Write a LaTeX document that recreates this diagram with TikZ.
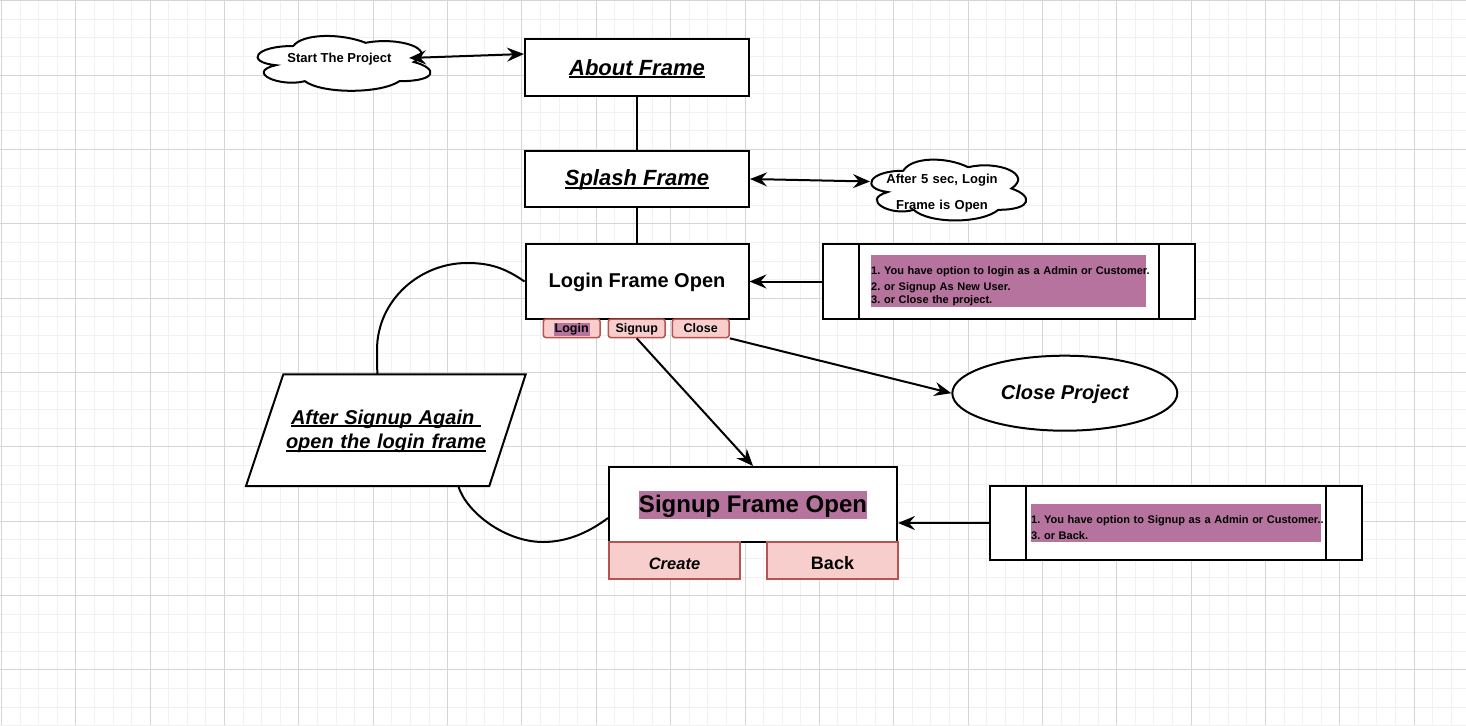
\documentclass[tikz,border=0pt]{standalone}
\usepackage{fontspec}
\setmainfont{Liberation Sans}
\usetikzlibrary{arrows.meta,shapes.geometric}
\definecolor{pp}{HTML}{B5739D}
\definecolor{btnfill}{HTML}{F8CECC}
\definecolor{btndraw}{HTML}{B85450}
\definecolor{gridminor}{HTML}{F1F1F1}
\definecolor{gridmajor}{HTML}{D5D5D5}
\frenchspacing
\newsavebox{\mulbox}
\newcommand{\mul}[1]{\leavevmode\hbox{\sbox{\mulbox}{#1}\rlap{\rule[-3.2pt]{\wd\mulbox}{1.8pt}}\usebox{\mulbox}}}
\newcommand{\dcloud}[4]{%
  \begin{scope}[shift={(#1,#2)}, x={(#3pt,0pt)}, y={(0pt,-#4pt)}]
    \draw[line width=2pt, fill=white] (0.25,0.25) .. controls (0.05,0.25) and (0,0.5) .. (0.16,0.55)
      .. controls (0,0.66) and (0.18,0.9) .. (0.31,0.8)
      .. controls (0.4,1) and (0.7,1) .. (0.8,0.8)
      .. controls (1,0.8) and (1,0.6) .. (0.875,0.5)
      .. controls (1,0.3) and (0.8,0.1) .. (0.625,0.2)
      .. controls (0.5,0.05) and (0.3,0.05) .. (0.25,0.25) -- cycle;
  \end{scope}}
\begin{document}
\begin{tikzpicture}[x=1pt,y=-1pt,
  framebox/.style={draw=black, line width=2pt, fill=white, inner sep=0pt},
  btn/.style={draw=btndraw, fill=btnfill, line width=1.5pt, rounded corners=2.5pt, inner sep=0pt},
  btnsq/.style={draw=btndraw, fill=btnfill, line width=1.5pt, inner sep=0pt},
  conn/.style={line width=2pt},
  tip/.tip={Stealth[length=17pt,width=14pt,inset=6pt]},
  arr/.style={conn, -tip},
  darr/.style={conn, tip-tip},
  ptext/.style={inner sep=0pt, text width=300pt, align=left, font={\fontsize{11}{13}\selectfont\bfseries}},
  hl/.style={fill=pp, inner sep=0pt}]
\fill[white] (0,0) rectangle (1466,725);
\useasboundingbox (0,0) rectangle (1466,725);
% grid
\foreach \i in {0,...,78} \draw[gridminor, line width=1pt] ({1.5+\i*18.5875},0) -- ({1.5+\i*18.5875},725);
\foreach \j in {0,...,39} \draw[gridminor, line width=1pt] (0,{0.8+\j*18.5875}) -- (1466,{0.8+\j*18.5875});
\foreach \i in {0,...,19} \draw[gridmajor, line width=1pt] ({1.5+\i*74.35},0) -- ({1.5+\i*74.35},725);
\foreach \j in {0,...,9} \draw[gridmajor, line width=1pt] (0,{0.8+\j*74.35}) -- (1466,{0.8+\j*74.35});

% clouds
\dcloud{245}{30}{193}{64}
\node[inner sep=0pt, text height=9.3pt, text depth=0pt, font={\fontsize{13}{13}\selectfont\bfseries}] (start) at (339.5,58) {Start The Project};
\coordinate (startE) at (409,58);
\dcloud{860}{153}{173}{71}
\node[inner sep=0pt, anchor=base, text width=200pt, align=center, font={\fontsize{13}{26}\selectfont\bfseries}] (wait) at (942,183.3) {After 5 sec, Login\\Frame is Open};
\coordinate (cloudW) at (870,181.5);

% main frames
\node[framebox, minimum width=224pt, minimum height=57pt, text height=15pt, text depth=0pt] (about) at (637,67.5) {\fontsize{22}{22}\selectfont\bfseries\itshape\mul{About Frame}};
\node[framebox, minimum width=224pt, minimum height=56pt, text height=13.4pt, text depth=0pt] (splash) at (637,179) {\fontsize{22}{22}\selectfont\bfseries\itshape\mul{Splash Frame}};
\node[framebox, minimum width=223pt, minimum height=75pt, text height=11.6pt, text depth=0pt] (login) at (637,281.5) {\fontsize{20}{20}\selectfont\bfseries Login Frame Open};

% buttons of login frame
\node[btn, minimum width=56.7pt, minimum height=18.5pt, text height=9pt, text depth=0pt] (blogin) at (571.7,328.3) {\fontsize{12.5}{12.5}\selectfont\bfseries\setlength{\fboxsep}{1pt}\colorbox{pp}{Login}};
\node[btn, minimum width=56.7pt, minimum height=18.5pt, text height=9pt, text depth=0pt] (bsignup) at (636.7,328.3) {\fontsize{12.5}{12.5}\selectfont\bfseries Signup};
\node[btn, minimum width=56.7pt, minimum height=18.5pt, text height=9pt, text depth=0pt] (bclose) at (700.7,328.3) {\fontsize{12.5}{12.5}\selectfont\bfseries Close};

% process box 1
\node[framebox, minimum width=372pt, minimum height=75pt] (proc1) at (1009,281.5) {};
\draw[line width=2pt] ([xshift=37pt]proc1.north west) -- ([xshift=37pt]proc1.south west);
\draw[line width=2pt] ([xshift=-37pt]proc1.north east) -- ([xshift=-37pt]proc1.south east);
\node[hl, minimum width=275pt, minimum height=52pt] (pp1) at (1008.5,281) {};
\node[ptext, anchor=base west] (t1) at (871,274) {1. You have option to login as a Admin or Customer.\\[3.7pt]2. or Signup As New User.\\3. or Close the project.};

% parallelogram
\draw[line width=2pt, fill=white] (283.3,374.3) -- (525.7,374.3) -- (489.3,486) -- (246,486) -- cycle;
\node[inner sep=0pt, anchor=base, text width=260pt, align=center, font={\fontsize{20}{24.5}\selectfont\bfseries\itshape}] (para) at (386,424) {\mul{After Signup Again\ }\\\mul{open the login frame}};
\coordinate (paraTop) at (377.3,374.3);
\coordinate (paraBot) at (458.3,486);

% close project
\node[draw, ellipse, line width=2pt, fill=white, minimum width=225pt, minimum height=75pt, inner sep=0pt, text height=12.2pt, text depth=0pt] (closep) at (1064.8,393.2) {\fontsize{20}{20}\selectfont\bfseries\itshape Close Project};

% signup frame
\node[framebox, minimum width=288pt, minimum height=75pt, text height=22pt, text depth=6pt] (signup) at (753,504.5) {\fontsize{24}{24}\selectfont\bfseries\setlength{\fboxsep}{0pt}\colorbox{pp}{\rule[-6pt]{0pt}{28pt}Signup Frame Open}};
\node[btnsq, minimum width=131pt, minimum height=37pt, text height=17.6pt, text depth=0pt] (bcreate) at (674.5,560.5) {\fontsize{16.5}{16.5}\selectfont\bfseries\itshape Create};
\node[btnsq, minimum width=131pt, minimum height=37pt, text height=17pt, text depth=0pt] (bback) at (832.5,560.5) {\fontsize{18}{18}\selectfont\bfseries Back};

% process box 2
\node[framebox, minimum width=372pt, minimum height=74pt] (proc2) at (1176,523) {};
\draw[line width=2pt] ([xshift=37pt]proc2.north west) -- ([xshift=37pt]proc2.south west);
\draw[line width=2pt] ([xshift=-37pt]proc2.north east) -- ([xshift=-37pt]proc2.south east);
\node[hl, minimum width=289.5pt, minimum height=38pt] (pp2) at (1175.75,523) {};
\node[ptext, anchor=base west, font={\fontsize{11}{16}\selectfont\bfseries}] (t2) at (1031,523.3) {1. You have option to Signup as a Admin or Customer..\\3. or Back.};

% connectors
\draw[conn] (about.south) -- (splash.north);
\draw[conn] (splash.south) -- (login.north);
\draw[darr] (startE) -- ([yshift=13.5pt]about.west);
\draw[darr] (splash.east) -- (cloudW);
\draw[arr] (proc1.west) -- (login.east);
\draw[arr] (proc2.west) -- (signup.east |- proc2.west);
\draw[arr] (bsignup.south) -- (signup.north);
\draw[arr] (bclose.south east) -- (closep.west);
\draw[conn] (login.west) .. controls (505,268) and (490,263) .. (467,263) .. controls (420,263) and (377,300) .. (377,350) -- (paraTop);
\draw[conn] (paraBot) .. controls (466,512) and (505,542) .. (543,542) .. controls (570,542) and (592,530) .. ([yshift=-13.5pt]signup.west);
\end{tikzpicture}
\end{document}
